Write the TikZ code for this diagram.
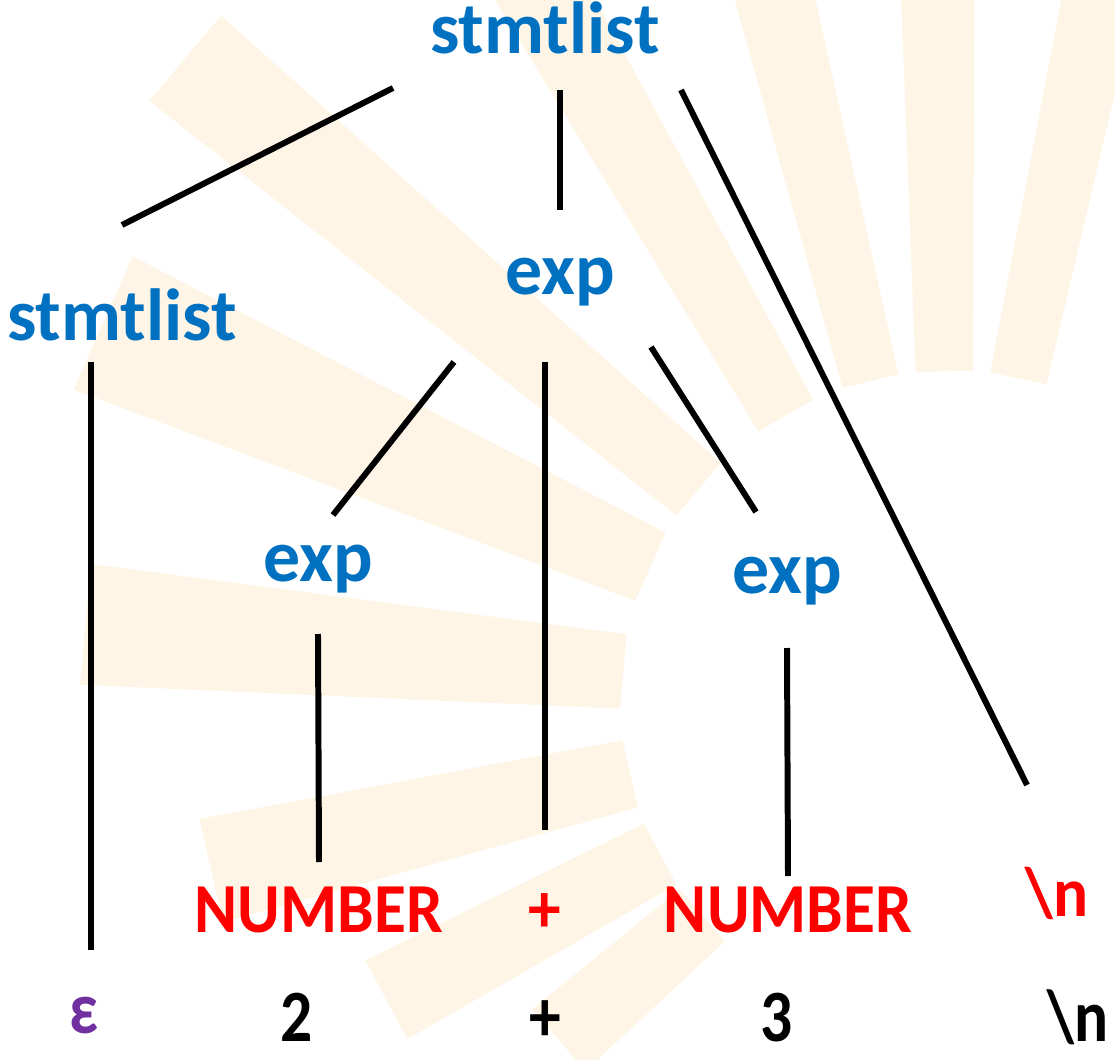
\documentclass[tikz,border=0pt]{standalone}
\usepackage{fontspec}
\setmainfont{Carlito}
\newfontfamily\tokfont{Carlito}[FakeStretch=0.93]
\newfontfamily\lexfont{Carlito}[FakeStretch=0.86]
\usetikzlibrary{calc}
\definecolor{ntblue}{RGB}{0,112,192}
\definecolor{tokred}{RGB}{255,0,0}
\definecolor{epspurple}{RGB}{112,48,160}
\definecolor{fanbg}{RGB}{254,245,231}
\tikzset{
  nterm/.style={anchor=base, inner sep=0pt, text=ntblue,
    font=\fontsize{42}{48}\selectfont\bfseries},
  token/.style={anchor=base, inner sep=0pt, text=tokred,
    font=\tokfont\fontsize{40}{46}\selectfont\bfseries},
  lexema/.style={anchor=base, inner sep=0pt, text=black,
    font=\lexfont\fontsize{42}{48}\selectfont\bfseries},
  rama/.style={line width=3.4pt, color=black},
  rayo/.style={fill=fanbg, draw=none}
}

\begin{document}
\begin{tikzpicture}[x=0.02cm, y=-0.02cm]
  \useasboundingbox (0,0) rectangle (1115,1060);
  % fondo: abanico
  \begin{scope}
    \clip (0,0) rectangle (1115,1060);
    \foreach \ang/\len/\wi/\wo in {-78/900/5/2.6, -91/900/5/2.6, -104/900/5/2.8,
        -120/850/5.5/3, -140/1000/6/3.2, -156/930/6.5/4.5, -175/870/6.5/4,
        167/760/6/4, 152/640/6/4, 139/520/6/4.5}
      \fill[rayo, shift={(950,700)}] (\ang-\wi:330) -- (\ang-\wo:\len)
        -- (\ang+\wo:\len) -- (\ang+\wi:330) -- cycle;
  \end{scope}

  % no terminales
  \node[nterm] (root) at (545,54)  {stmtlist};
  \node[nterm] (sl)   at (122,341) {stmtlist};
  \node[nterm] (e0)   at (560,295) {exp};
  \node[nterm] (e1)   at (318,581) {exp};
  \node[nterm] (e2)   at (787,593) {exp};

  % tokens
  \node[token] (n1) at (319,932)  {NUMBER};
  \node[token] (pl) at (545,932)  {+};
  \node[token] (n2) at (788,932)  {NUMBER};
  \node[token] (nl) at (1057,916) {\textbackslash n};

  % lexemas
  \node[lexema, text=epspurple] (eps) at (84,1033) {ε};
  \node[lexema] (lx2) at (297,1041)  {2};
  \node[lexema] (lxp) at (545,1041)  {+};
  \node[lexema] (lx3) at (777,1041)  {3};
  \node[lexema] (lxn) at (1078,1041) {\textbackslash n};

  % ramas
  \draw[rama] ($(root.base)+(-152,34)$) -- ($(sl.base)+(0,-116)$);
  \draw[rama] ($(root.base)+(15,36)$)   -- ($(e0.base)+(0,-85)$);
  \draw[rama] ($(root.base)+(136,36)$)  -- ($(nl.base)+(-30,-131)$);
  \draw[rama] ($(sl.base)+(-31,21)$)    -- ($(eps.base)+(7,-83)$);
  \draw[rama] ($(e0.base)+(-106,67)$)   -- ($(e1.base)+(15,-66)$);
  \draw[rama] ($(e0.base)+(-15,67)$)    -- ($(pl.base)+(0,-102)$);
  \draw[rama] ($(e0.base)+(91,52)$)     -- ($(e2.base)+(-31,-81)$);
  \draw[rama] ($(e1.base)+(0,53)$)      -- ($(n1.base)+(0,-70)$);
  \draw[rama] ($(e2.base)+(0,55)$)      -- ($(n2.base)+(0,-56)$);
\end{tikzpicture}
\end{document}
